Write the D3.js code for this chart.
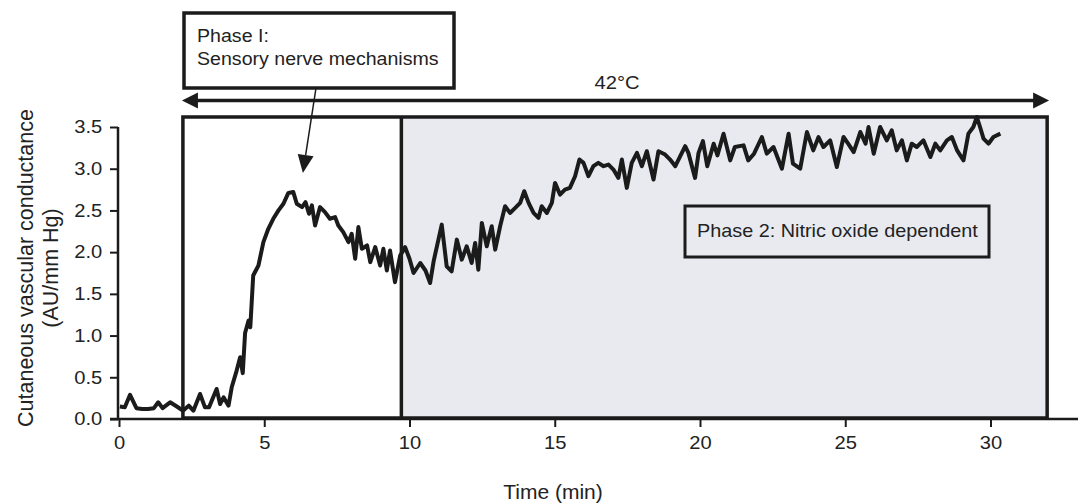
<!DOCTYPE html>
<html>
<head>
<meta charset="utf-8">
<script src="https://cdn.jsdelivr.net/npm/d3@7"></script>
<style>
  body { margin: 0; background: #fff; }
  svg { display: block; font-family: "Liberation Sans", Arial, sans-serif; }
</style>
</head>
<body>
<svg id="chart" width="1078" height="504"></svg>
<script>
// trace: time (min) and conductance (AU/mm Hg)
const times = [0.03,0.2,0.38,0.6,0.8,1.0,1.2,1.35,1.5,1.76,1.99,2.2,2.4,2.56,2.79,2.96,3.1,3.36,3.48,3.6,3.77,3.88,
  4.05,4.17,4.26,4.34,4.46,4.52,4.62,4.8,4.97,5.14,5.31,5.49,5.66,5.83,6.0,6.12,6.3,6.42,6.54,6.64,6.75,6.92,
  7.09,7.26,7.44,7.55,7.72,7.9,8.01,8.13,8.24,8.36,8.54,8.65,8.82,8.99,9.1,9.22,9.33,9.5,9.68,9.85,10.0,
  10.14,10.37,10.55,10.71,10.83,11.11,11.28,11.45,11.63,11.8,11.97,12.14,12.26,12.37,12.49,12.66,12.83,12.95,
  13.12,13.29,13.46,13.64,13.81,13.95,14.1,14.27,14.44,14.55,14.73,14.9,15.01,15.18,15.35,15.52,15.7,15.85,
  15.99,16.16,16.33,16.5,16.68,16.85,17.02,17.19,17.31,17.48,17.65,17.83,18.0,18.17,18.4,18.57,18.8,18.97,
  19.15,19.32,19.49,19.6,19.83,19.95,20.1,20.25,20.47,20.6,20.81,21.04,21.2,21.5,21.66,21.86,22.13,22.3,
  22.53,22.82,23.05,23.2,23.45,23.68,23.9,24.08,24.25,24.48,24.71,24.94,25.1,25.29,25.52,25.7,25.8,25.98,
  26.2,26.43,26.6,26.77,26.95,27.12,27.29,27.46,27.69,27.93,28.1,28.27,28.5,28.67,28.85,29.07,29.24,29.41,
  29.53,29.64,29.76,29.93,30.1,30.34];
const values = [0.15,0.14,0.29,0.13,0.12,0.12,0.13,0.2,0.13,0.2,0.15,0.1,0.16,0.1,0.3,0.14,0.14,0.36,0.18,0.26,0.16,0.38,
  0.58,0.74,0.55,1.03,1.18,1.1,1.72,1.84,2.12,2.28,2.4,2.5,2.58,2.71,2.72,2.58,2.54,2.6,2.46,2.56,2.32,2.54,
  2.48,2.4,2.42,2.32,2.24,2.12,2.22,1.92,2.3,2.04,2.08,1.88,2.06,1.84,2.04,1.78,2.02,1.64,1.96,2.06,1.92,
  1.75,1.87,1.78,1.63,1.89,2.33,1.83,1.77,2.15,1.91,2.07,1.87,2.11,1.79,2.35,2.07,2.31,2.03,
  2.31,2.55,2.47,2.53,2.59,2.73,2.59,2.47,2.41,2.55,2.47,2.59,2.83,2.69,2.75,2.77,2.91,3.11,
  3.07,2.91,3.03,3.07,3.03,3.05,2.99,2.89,3.11,2.77,3.07,3.19,3.03,3.21,2.87,3.21,3.17,3.11,
  3.03,3.15,3.27,3.19,2.89,3.19,3.33,3.03,3.3,3.16,3.42,3.1,3.26,3.28,3.1,3.18,3.38,3.18,
  3.26,3.0,3.42,3.06,3.0,3.44,3.22,3.38,3.26,3.34,3.02,3.38,3.3,3.2,3.44,3.3,3.5,3.18,
  3.5,3.34,3.46,3.22,3.34,3.1,3.3,3.26,3.34,3.14,3.3,3.22,3.34,3.38,3.22,3.1,3.42,3.5,
  3.62,3.5,3.36,3.3,3.38,3.42];

const xTicks = [0, 5, 10, 15, 20, 25, 30];
const yTicks = [0, 0.5, 1.0, 1.5, 2.0, 2.5, 3.0, 3.5];
const heatStart = 2.2, phase2Start = 9.72, heatEnd = 31.95; // min
const boxTop = 3.62;

const svg = d3.select("#chart");
const ink = "#1b1b1b";
const sx = 1.12; // the source lettering is a bit wide

const x = d3.scaleLinear().domain([0, 30]).range([119, 990.5]);
const y = d3.scaleLinear().domain([0, 3.5]).range([419, 127]);

// shaded phase 2 region
svg.append("rect")
   .attr("x", x(phase2Start)).attr("y", y(boxTop))
   .attr("width", x(heatEnd) - x(phase2Start)).attr("height", y(0) - y(boxTop))
   .attr("fill", "#e9eaf0");

// x axis
svg.append("line")
   .attr("x1", 110).attr("x2", 1078).attr("y1", y(0)).attr("y2", y(0))
   .attr("stroke", ink).attr("stroke-width", 2.5);
let xAxis = svg.append("g")
   .attr("transform", "translate(0," + y(0) + ")")
   .call(d3.axisBottom(x).tickValues(xTicks).tickSize(8).tickPadding(9).tickFormat(d3.format("d")));
xAxis.select(".domain").remove();
xAxis.selectAll("line").attr("stroke", ink).attr("stroke-width", 2);
xAxis.selectAll("text").attr("font-size", 18).attr("fill", "#222")
     .attr("font-family", "Liberation Sans").attr("transform", "scale(" + sx + ",1)");

// y axis
let yAxis = svg.append("g")
   .attr("transform", "translate(118,0)")
   .call(d3.axisLeft(y).tickValues(yTicks).tickSize(8).tickPadding(6).tickFormat(d3.format(".1f")));
yAxis.select(".domain").attr("stroke", ink).attr("stroke-width", 2.5)
     .attr("d", "M0," + y(3.5) + "V" + y(0));
yAxis.selectAll("line").attr("stroke", ink).attr("stroke-width", 2);
yAxis.selectAll("text").attr("font-size", 18).attr("fill", "#222")
     .attr("font-family", "Liberation Sans").attr("transform", "scale(" + sx + ",1)");

// axis titles
svg.append("text")
   .attr("x", 553).attr("y", 499)
   .attr("text-anchor", "middle").attr("font-size", 21).attr("fill", "#222")
   .text("Time (min)");
let ylab = svg.append("text")
   .attr("transform", "translate(33,268) rotate(-90)")
   .attr("text-anchor", "middle").attr("font-size", 21.5).attr("fill", "#222");
ylab.append("tspan").attr("x", 0).attr("y", 0).text("Cutaneous vascular conductance");
ylab.append("tspan").attr("x", 0).attr("y", 25).text("(AU/mm Hg)");

// trace
const pts = times.map((t, i) => [t, values[i]]);
svg.append("path")
   .datum(pts)
   .attr("fill", "none").attr("stroke", ink).attr("stroke-width", 4)
   .attr("stroke-linejoin", "round")
   .attr("d", d3.line().x(d => x(d[0])).y(d => y(d[1])));

// heating box and phase divider
svg.append("rect")
   .attr("x", x(heatStart)).attr("y", y(boxTop))
   .attr("width", x(heatEnd) - x(heatStart)).attr("height", y(0) - y(boxTop) - 1)
   .attr("fill", "none").attr("stroke", ink).attr("stroke-width", 3.5);
svg.append("line")
   .attr("x1", x(phase2Start)).attr("x2", x(phase2Start))
   .attr("y1", y(boxTop)).attr("y2", y(0))
   .attr("stroke", ink).attr("stroke-width", 3.5);

// 42°C double arrow
const arrY = 100.5;
svg.append("line")
   .attr("x1", x(heatStart) + 10).attr("x2", x(heatEnd) - 8)
   .attr("y1", arrY).attr("y2", arrY)
   .attr("stroke", ink).attr("stroke-width", 3.5);
svg.append("path")
   .attr("d", d3.line()([[x(heatStart) - 1, arrY], [x(heatStart) + 15, arrY - 8], [x(heatStart) + 15, arrY + 8]]) + "Z")
   .attr("fill", ink);
svg.append("path")
   .attr("d", d3.line()([[x(heatEnd) + 2, arrY], [x(heatEnd) - 14, arrY - 8], [x(heatEnd) - 14, arrY + 8]]) + "Z")
   .attr("fill", ink);
svg.append("text")
   .attr("transform", "translate(617,89) scale(" + sx + ",1)")
   .attr("text-anchor", "middle").attr("font-size", 18).attr("fill", "#222")
   .text("42°C");

// phase I label box + pointer
svg.append("rect")
   .attr("x", 184).attr("y", 13).attr("width", 270).attr("height", 75)
   .attr("fill", "#fff").attr("stroke", ink).attr("stroke-width", 3.5);
svg.append("text")
   .attr("transform", "translate(197,42) scale(" + sx + ",1)")
   .attr("font-size", 17.5).attr("fill", "#222").text("Phase I:");
svg.append("text")
   .attr("transform", "translate(197,65) scale(" + sx + ",1)")
   .attr("font-size", 17.5).attr("fill", "#222").text("Sensory nerve mechanisms");

const tip = [x(6.33), y(2.95)];
const tail = [316, 88];
const ang = Math.atan2(tip[1] - tail[1], tip[0] - tail[0]);
const hl = 18, hw = 8;
const base = [tip[0] - hl * Math.cos(ang), tip[1] - hl * Math.sin(ang)];
svg.append("line")
   .attr("x1", tail[0]).attr("y1", tail[1]).attr("x2", base[0]).attr("y2", base[1])
   .attr("stroke", ink).attr("stroke-width", 1.5);
svg.append("path")
   .attr("d", d3.line()([tip,
       [base[0] + hw * Math.sin(ang), base[1] - hw * Math.cos(ang)],
       [base[0] - hw * Math.sin(ang), base[1] + hw * Math.cos(ang)]]) + "Z")
   .attr("fill", ink);

// phase 2 label box
svg.append("rect")
   .attr("x", 685).attr("y", 206).attr("width", 304).attr("height", 51)
   .attr("fill", "none").attr("stroke", ink).attr("stroke-width", 3);
svg.append("text")
   .attr("transform", "translate(697,237) scale(" + sx + ",1)")
   .attr("font-size", 17.7).attr("fill", "#222").text("Phase 2: Nitric oxide dependent");
</script>
</body>
</html>
